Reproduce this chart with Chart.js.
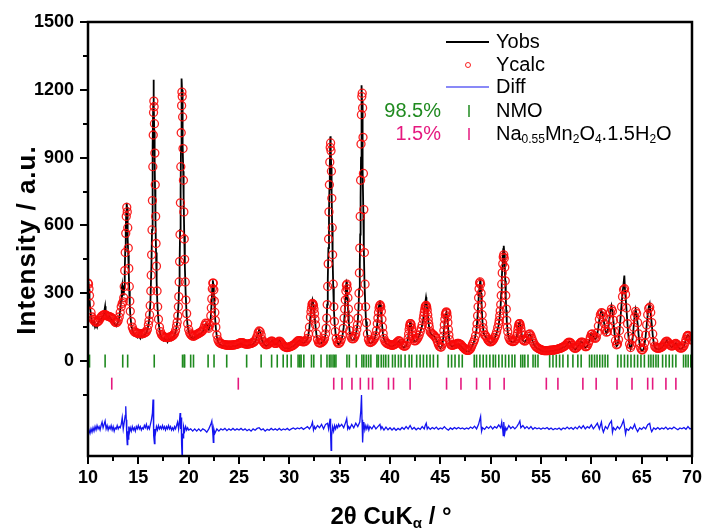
<!DOCTYPE html>
<html>
<head>
<meta charset="utf-8">
<script src="https://cdn.jsdelivr.net/npm/chart.js"></script>
<style>
  html, body { margin: 0; padding: 0; background: #fff; }
  canvas { display: block; }
</style>
</head>
<body>
<canvas id="xrd" width="705" height="531"></canvas>
<script>
// Rietveld fit: [2theta, intensity]
const calcPoints = [
  [10.0,345],[10.05,340],[10.1,320],[10.15,290],[10.2,255],[10.3,215],[10.4,195],[10.5,185],[10.6,178],[10.7,175],[10.8,172],[10.9,172],
  [11.0,175],[11.1,180],[11.2,188],[11.3,195],[11.4,200],[11.5,203],[11.6,205],[11.7,205],[11.8,203],[11.9,200],[12.0,198],[12.1,196],
  [12.2,195],[12.3,193],[12.4,190],[12.5,185],[12.6,178],[12.7,172],[12.8,170],[12.9,172],[13.0,180],[13.1,195],[13.2,215],[13.3,240],
  [13.4,255],[13.5,262],[13.55,280],[13.6,330],[13.65,400],[13.7,480],[13.75,565],[13.8,640],[13.85,680],[13.9,660],[13.95,590],[14.0,500],
  [14.05,410],[14.1,330],[14.15,265],[14.2,220],[14.3,175],[14.4,150],[14.5,138],[14.6,130],[14.7,127],[14.8,125],[14.9,123],[15.0,122],
  [15.1,121],[15.2,121],[15.3,121],[15.4,121],[15.5,122],[15.6,124],[15.7,127],[15.8,130],[15.9,140],[16.0,160],[16.06,178],[16.12,205],
  [16.18,245],[16.24,310],[16.28,380],[16.32,470],[16.36,580],[16.4,710],[16.44,860],[16.48,1000],[16.51,1100],[16.54,1150],[16.57,1125],
  [16.6,1050],[16.64,920],[16.68,780],[16.72,640],[16.76,520],[16.8,420],[16.86,310],[16.92,240],[17.0,185],[17.1,150],[17.2,130],[17.3,118],
  [17.4,112],[17.5,108],[17.6,106],[17.7,105],[17.8,104],[17.9,104],[18.0,105],[18.1,106],[18.2,107],[18.3,109],[18.4,112],[18.5,116],
  [18.6,122],[18.7,135],[18.8,155],[18.86,172],[18.92,200],[18.98,240],[19.02,285],[19.06,350],[19.1,440],[19.14,560],[19.18,700],[19.22,860],
  [19.26,1010],[19.3,1130],[19.33,1190],[19.36,1170],[19.4,1080],[19.44,940],[19.48,800],[19.52,660],[19.56,540],[19.6,450],[19.66,350],
  [19.72,270],[19.8,210],[19.9,165],[20.0,140],[20.1,125],[20.2,118],[20.3,113],[20.4,110],[20.5,110],[20.6,112],[20.7,115],[20.8,118],
  [20.9,120],[21.0,122],[21.1,125],[21.2,128],[21.3,131],[21.4,135],[21.5,145],[21.6,158],[21.7,168],[21.8,165],[21.9,150],[22.0,145],
  [22.1,160],[22.2,200],[22.25,235],[22.3,275],[22.35,320],[22.4,345],[22.45,345],[22.5,315],[22.55,265],[22.6,215],[22.65,180],[22.7,150],
  [22.8,115],[22.9,95],[23.0,85],[23.1,80],[23.2,78],[23.3,76],[23.4,74],[23.5,73],[23.6,72],[23.7,71],[23.8,70],[23.9,70],[24.0,70],
  [24.1,70],[24.2,70],[24.3,70],[24.4,71],[24.5,71],[24.6,72],[24.7,73],[24.8,74],[24.9,76],[25.0,78],[25.1,80],[25.2,82],[25.3,82],
  [25.4,80],[25.5,78],[25.6,76],[25.7,75],[25.8,74],[25.9,75],[26.0,76],[26.1,77],[26.2,78],[26.3,80],[26.4,82],[26.5,85],[26.6,90],
  [26.7,98],[26.8,110],[26.9,125],[27.0,133],[27.1,130],[27.2,115],[27.3,95],[27.4,86],[27.5,80],[27.6,75],[27.7,72],[27.8,73],[27.9,75],
  [28.0,80],[28.1,85],[28.2,88],[28.3,88],[28.4,85],[28.5,80],[28.6,78],[28.7,78],[28.8,82],[28.9,85],[29.0,88],[29.1,86],[29.2,80],
  [29.3,74],[29.4,68],[29.5,64],[29.6,62],[29.7,60],[29.8,60],[29.9,61],[30.0,62],[30.1,64],[30.2,66],[30.3,68],[30.4,70],[30.5,74],
  [30.6,78],[30.7,83],[30.8,88],[30.9,90],[31.0,90],[31.1,89],[31.2,88],[31.3,86],[31.4,85],[31.5,86],[31.6,88],[31.7,93],[31.8,100],
  [31.9,120],[32.0,150],[32.1,195],[32.15,218],[32.2,235],[32.25,250],[32.3,255],[32.35,252],[32.4,245],[32.45,230],[32.5,210],[32.55,185],
  [32.6,160],[32.7,120],[32.8,95],[32.9,82],[33.0,80],[33.1,80],[33.2,82],[33.3,86],[33.4,90],[33.5,100],[33.6,120],[33.66,145],[33.72,190],
  [33.76,250],[33.81,330],[33.86,430],[33.9,540],[33.94,660],[33.98,780],[34.02,880],[34.06,945],[34.1,965],[34.14,930],[34.18,840],
  [34.22,720],[34.26,590],[34.3,470],[34.36,340],[34.42,240],[34.48,175],[34.56,130],[34.66,100],[34.76,85],[34.86,78],[34.96,79],[35.06,85],
  [35.16,96],[35.26,115],[35.36,145],[35.44,190],[35.5,230],[35.56,270],[35.62,310],[35.67,335],[35.72,340],[35.77,320],[35.82,280],
  [35.87,230],[35.92,185],[36.0,135],[36.1,110],[36.2,100],[36.3,98],[36.4,100],[36.5,108],[36.6,120],[36.7,140],[36.76,160],[36.82,190],
  [36.88,240],[36.92,300],[36.96,390],[37.0,500],[37.04,640],[37.08,800],[37.12,960],[37.16,1090],[37.2,1170],[37.24,1185],[37.28,1120],
  [37.32,990],[37.36,830],[37.4,670],[37.46,480],[37.52,340],[37.58,240],[37.66,170],[37.76,120],[37.86,95],[37.96,85],[38.06,82],[38.16,84],
  [38.26,88],[38.36,93],[38.46,100],[38.56,112],[38.66,135],[38.74,165],[38.8,190],[38.86,215],[38.92,235],[38.98,245],[39.03,248],[39.08,240],
  [39.14,220],[39.2,185],[39.26,150],[39.32,122],[39.4,100],[39.5,88],[39.6,82],[39.7,78],[39.8,76],[39.9,74],[40.0,72],[40.1,71],[40.2,70],
  [40.3,70],[40.4,72],[40.5,75],[40.6,78],[40.7,83],[40.8,88],[40.9,90],[41.0,86],[41.1,78],[41.2,72],[41.3,68],[41.4,66],[41.5,66],[41.6,70],
  [41.7,82],[41.8,100],[41.85,120],[41.9,140],[41.95,155],[42.0,165],[42.05,166],[42.1,160],[42.15,145],[42.2,130],[42.25,112],[42.3,100],
  [42.4,90],[42.5,89],[42.6,92],[42.7,98],[42.8,105],[42.9,115],[43.0,130],[43.1,145],[43.2,160],[43.3,185],[43.35,200],[43.4,215],[43.45,228],
  [43.5,240],[43.55,245],[43.6,246],[43.65,238],[43.7,225],[43.75,205],[43.8,185],[43.85,165],[43.9,150],[44.0,130],[44.1,124],[44.2,120],
  [44.3,116],[44.4,112],[44.5,106],[44.6,100],[44.7,88],[44.8,75],[44.9,66],[45.0,62],[45.1,62],[45.2,75],[45.25,90],[45.3,110],[45.35,135],
  [45.4,160],[45.45,185],[45.5,205],[45.55,214],[45.6,218],[45.65,212],[45.7,195],[45.75,170],[45.8,140],[45.85,115],[45.9,95],[46.0,75],
  [46.1,70],[46.2,70],[46.3,71],[46.4,72],[46.5,74],[46.6,76],[46.7,78],[46.8,78],[46.9,76],[47.0,74],[47.1,70],[47.2,64],[47.3,60],[47.4,55],
  [47.5,51],[47.6,48],[47.7,47],[47.8,47],[47.9,50],[48.0,55],[48.1,64],[48.2,75],[48.3,84],[48.4,95],[48.5,112],[48.6,140],[48.65,165],
  [48.7,200],[48.75,240],[48.8,280],[48.85,320],[48.9,345],[48.95,350],[49.0,340],[49.05,300],[49.1,250],[49.15,205],[49.2,170],[49.25,148],
  [49.3,130],[49.4,115],[49.5,112],[49.6,105],[49.7,96],[49.8,90],[49.9,86],[50.0,85],[50.1,87],[50.2,90],[50.3,97],[50.4,105],[50.5,116],
  [50.6,130],[50.7,148],[50.8,165],[50.85,180],[50.9,200],[50.95,222],[51.0,250],[51.05,290],[51.1,340],[51.15,390],[51.2,430],[51.25,460],
  [51.3,470],[51.35,455],[51.4,415],[51.45,355],[51.5,290],[51.55,230],[51.6,180],[51.65,150],[51.7,130],[51.8,105],[51.9,95],[52.0,90],
  [52.1,88],[52.2,86],[52.3,87],[52.4,90],[52.5,98],[52.6,110],[52.65,122],[52.7,140],[52.75,152],[52.8,162],[52.85,166],[52.9,165],
  [52.95,156],[53.0,145],[53.05,130],[53.1,115],[53.2,95],[53.3,90],[53.4,88],[53.5,92],[53.6,100],[53.7,110],[53.8,118],[53.9,120],
  [54.0,112],[54.1,100],[54.2,88],[54.3,78],[54.4,70],[54.5,64],[54.6,60],[54.7,57],[54.8,55],[54.9,52],[55.0,50],[55.1,48],[55.2,47],
  [55.3,46],[55.4,46],[55.5,46],[55.6,46],[55.7,46],[55.8,47],[55.9,47],[56.0,48],[56.1,48],[56.2,48],[56.3,49],[56.4,50],[56.5,51],
  [56.6,52],[56.7,53],[56.8,55],[56.9,56],[57.0,58],[57.1,60],[57.2,62],[57.3,65],[57.4,68],[57.5,72],[57.6,78],[57.7,82],[57.8,84],
  [57.9,82],[58.0,78],[58.1,70],[58.2,62],[58.3,58],[58.4,56],[58.5,58],[58.6,62],[58.7,68],[58.8,75],[58.9,80],[59.0,84],[59.1,84],
  [59.2,80],[59.3,72],[59.4,64],[59.5,64],[59.6,68],[59.7,78],[59.8,90],[59.9,105],[60.0,118],[60.1,120],[60.2,112],[60.3,104],[60.4,100],
  [60.5,105],[60.6,125],[60.7,155],[60.8,185],[60.9,205],[61.0,214],[61.1,212],[61.2,195],[61.3,165],[61.4,140],[61.5,128],[61.6,130],
  [61.7,150],[61.8,185],[61.9,215],[62.0,230],[62.1,220],[62.2,180],[62.3,130],[62.4,90],[62.5,72],[62.6,75],[62.7,95],[62.8,135],
  [62.9,185],[63.0,240],[63.1,285],[63.2,315],[63.3,320],[63.4,295],[63.5,235],[63.6,165],[63.7,110],[63.8,75],[63.9,60],[64.0,70],
  [64.1,100],[64.2,150],[64.3,195],[64.4,220],[64.5,210],[64.6,170],[64.7,120],[64.8,80],[64.9,58],[65.0,50],[65.1,50],[65.2,58],
  [65.3,80],[65.4,115],[65.5,160],[65.6,205],[65.7,232],[65.8,238],[65.9,215],[66.0,170],[66.1,120],[66.2,85],[66.3,66],[66.4,60],
  [66.5,58],[66.6,56],[66.7,57],[66.8,58],[66.9,60],[67.0,62],[67.1,66],[67.2,72],[67.3,80],[67.4,86],[67.5,88],[67.6,84],[67.7,78],
  [67.8,72],[67.9,68],[68.0,66],[68.1,68],[68.2,72],[68.3,76],[68.4,78],[68.5,74],[68.6,68],[68.7,62],[68.8,58],[68.9,57],[69.0,58],
  [69.1,62],[69.2,68],[69.3,80],[69.4,95],[69.5,108],[69.55,112],[69.6,113],[69.7,110],[69.8,102],[69.9,96],[70.0,92]
];

const obsPoints = [
  [10.0,352],[10.05,345],[10.1,318],[10.15,280],[10.2,240],[10.3,200],[10.4,170],[10.5,160],[10.6,172],[10.7,150],[10.8,160],[10.9,150],
  [11.0,168],[11.1,175],[11.2,185],[11.3,180],[11.4,195],[11.5,190],[11.6,215],[11.7,242],[11.75,215],[11.8,200],[11.9,195],[12.0,188],
  [12.1,198],[12.2,190],[12.3,185],[12.4,182],[12.5,175],[12.6,165],[12.7,160],[12.8,155],[12.9,165],[13.0,175],[13.1,190],[13.2,225],
  [13.3,270],[13.35,320],[13.4,335],[13.45,300],[13.5,310],[13.55,290],[13.6,330],[13.65,400],[13.7,490],[13.75,580],[13.8,660],[13.84,700],
  [13.88,680],[13.92,620],[13.96,540],[14.0,470],[14.05,390],[14.1,310],[14.15,250],[14.2,205],[14.3,160],[14.4,140],[14.5,125],[14.6,118],
  [14.7,112],[14.8,110],[14.9,105],[15.0,115],[15.1,108],[15.2,100],[15.3,112],[15.4,105],[15.5,110],[15.6,115],[15.7,120],[15.8,125],
  [15.9,138],[16.0,160],[16.1,190],[16.2,260],[16.3,420],[16.36,580],[16.4,760],[16.44,950],[16.48,1140],[16.51,1244],[16.54,1150],
  [16.58,1020],[16.62,880],[16.66,760],[16.7,630],[16.76,480],[16.82,350],[16.9,240],[17.0,175],[17.1,140],[17.2,115],[17.3,105],[17.4,98],
  [17.5,92],[17.6,100],[17.7,90],[17.8,95],[17.9,85],[18.0,98],[18.1,92],[18.2,100],[18.3,94],[18.4,105],[18.5,108],[18.6,115],[18.7,130],
  [18.8,150],[18.9,185],[19.0,260],[19.05,330],[19.1,430],[19.15,580],[19.2,760],[19.24,950],[19.28,1150],[19.31,1250],[19.34,1200],
  [19.38,1080],[19.42,960],[19.46,840],[19.5,720],[19.56,560],[19.62,420],[19.7,300],[19.8,200],[19.9,155],[20.0,130],[20.1,118],[20.2,108],
  [20.3,100],[20.4,105],[20.5,98],[20.6,108],[20.7,104],[20.8,112],[20.9,108],[21.0,118],[21.2,122],[21.4,128],[21.5,140],[21.6,152],
  [21.7,165],[21.8,162],[21.9,148],[22.0,140],[22.1,155],[22.2,195],[22.3,275],[22.35,330],[22.4,357],[22.45,340],[22.5,305],[22.55,255],
  [22.6,205],[22.7,145],[22.8,108],[22.9,88],[23.0,78],[23.2,70],[23.4,66],[23.6,70],[23.8,62],[24.0,66],[24.2,60],[24.4,68],[24.6,64],
  [24.8,70],[25.0,74],[25.2,78],[25.4,72],[25.6,70],[25.8,66],[26.0,72],[26.2,70],[26.4,76],[26.6,85],[26.8,108],[26.9,122],[27.0,138],
  [27.1,128],[27.2,110],[27.3,90],[27.5,75],[27.7,66],[27.9,72],[28.1,82],[28.3,90],[28.5,76],[28.7,74],[28.9,84],[29.0,94],[29.2,76],
  [29.4,62],[29.6,56],[29.8,58],[30.0,55],[30.2,62],[30.4,66],[30.6,74],[30.8,85],[31.0,92],[31.2,84],[31.4,80],[31.6,85],[31.8,98],
  [31.9,118],[32.0,150],[32.1,200],[32.2,245],[32.3,270],[32.4,250],[32.5,205],[32.6,155],[32.7,115],[32.8,92],[32.9,78],[33.0,76],
  [33.2,80],[33.4,86],[33.5,96],[33.6,118],[33.7,170],[33.76,250],[33.82,360],[33.88,500],[33.94,650],[33.98,760],[34.02,860],[34.06,960],
  [34.09,995],[34.12,950],[34.16,860],[34.2,750],[34.25,600],[34.3,460],[34.36,330],[34.42,235],[34.5,165],[34.6,120],[34.7,94],[34.8,80],
  [34.9,74],[35.0,78],[35.1,85],[35.2,96],[35.3,118],[35.4,150],[35.5,210],[35.56,275],[35.62,330],[35.68,350],[35.72,345],[35.78,290],
  [35.84,225],[35.9,175],[36.0,128],[36.1,104],[36.2,95],[36.3,92],[36.4,96],[36.5,104],[36.6,118],[36.7,138],[36.8,175],[36.88,240],
  [36.94,320],[37.0,430],[37.04,560],[37.08,720],[37.12,900],[37.16,1080],[37.19,1220],[37.22,1150],[37.26,1000],[37.3,850],[37.35,660],
  [37.4,500],[37.46,360],[37.54,250],[37.62,175],[37.7,130],[37.8,100],[37.9,86],[38.0,80],[38.1,78],[38.2,82],[38.4,92],[38.6,118],
  [38.7,150],[38.8,195],[38.9,240],[38.96,262],[39.0,268],[39.05,250],[39.1,220],[39.2,165],[39.3,120],[39.4,96],[39.6,78],[39.8,72],
  [40.0,66],[40.2,64],[40.4,68],[40.6,74],[40.8,84],[40.9,88],[41.0,80],[41.2,66],[41.4,60],[41.6,66],[41.8,100],[41.9,140],[42.0,172],
  [42.05,175],[42.1,160],[42.2,125],[42.3,96],[42.4,86],[42.6,88],[42.8,102],[43.0,128],[43.1,142],[43.2,158],[43.3,185],[43.4,220],
  [43.5,258],[43.58,282],[43.62,270],[43.7,228],[43.8,180],[43.9,146],[44.0,126],[44.1,118],[44.2,116],[44.4,108],[44.6,95],[44.8,70],
  [45.0,56],[45.2,70],[45.3,105],[45.4,155],[45.5,200],[45.6,215],[45.7,190],[45.8,135],[45.9,90],[46.0,70],[46.2,64],[46.4,68],[46.6,72],
  [46.8,74],[47.0,68],[47.2,58],[47.4,50],[47.6,44],[47.8,42],[48.0,50],[48.2,70],[48.4,92],[48.6,140],[48.7,200],[48.8,275],[48.9,330],
  [48.96,355],[49.0,350],[49.05,300],[49.1,245],[49.2,165],[49.3,126],[49.4,112],[49.5,108],[49.6,100],[49.8,86],[50.0,80],[50.2,86],
  [50.4,100],[50.6,125],[50.8,160],[50.9,195],[51.0,250],[51.05,300],[51.1,355],[51.15,410],[51.2,460],[51.25,495],[51.3,510],[51.35,480],
  [51.4,420],[51.45,355],[51.5,285],[51.55,225],[51.6,176],[51.7,126],[51.8,102],[51.9,92],[52.0,86],[52.2,82],[52.4,88],[52.6,108],
  [52.7,138],[52.8,165],[52.9,172],[53.0,148],[53.1,112],[53.2,92],[53.4,84],[53.6,96],[53.8,114],[53.9,118],[54.0,108],[54.2,84],
  [54.4,66],[54.6,56],[54.8,52],[55.0,46],[55.2,44],[55.4,42],[55.6,44],[55.8,42],[56.0,46],[56.2,44],[56.4,48],[56.6,50],[56.8,52],
  [57.0,55],[57.2,60],[57.4,64],[57.6,75],[57.8,86],[58.0,76],[58.2,58],[58.4,52],[58.6,60],[58.8,72],[59.0,86],[59.1,82],[59.2,76],
  [59.4,60],[59.6,65],[59.8,88],[60.0,122],[60.1,118],[60.2,106],[60.4,96],[60.5,102],[60.6,122],[60.7,150],[60.8,185],[60.9,208],
  [61.0,222],[61.1,214],[61.2,190],[61.3,160],[61.4,135],[61.5,122],[61.6,128],[61.7,150],[61.8,190],[61.9,225],[62.0,245],[62.1,222],
  [62.2,175],[62.3,125],[62.4,84],[62.5,66],[62.6,70],[62.7,92],[62.8,135],[62.9,190],[63.0,250],[63.1,300],[63.2,340],[63.28,378],
  [63.35,310],[63.4,285],[63.5,225],[63.6,158],[63.7,104],[63.8,70],[63.9,54],[64.0,66],[64.1,98],[64.2,150],[64.3,200],[64.4,228],
  [64.5,205],[64.6,165],[64.7,114],[64.8,74],[64.9,52],[65.0,46],[65.1,46],[65.2,54],[65.3,78],[65.4,112],[65.5,158],[65.6,205],
  [65.7,238],[65.8,253],[65.9,210],[66.0,165],[66.1,115],[66.2,80],[66.3,62],[66.4,55],[66.6,52],[66.8,54],[67.0,60],[67.2,70],
  [67.4,86],[67.5,92],[67.6,82],[67.8,68],[68.0,62],[68.2,70],[68.4,80],[68.6,64],[68.8,54],[69.0,55],[69.2,66],[69.4,96],[69.55,115],
  [69.7,108],[69.85,96],[70.0,90]
];

const diffPoints = [
  [10.0,-330],[10.1,-305],[10.2,-320],[10.3,-300],[10.4,-315],[10.5,-295],[10.6,-310],[10.7,-290],[10.8,-305],[10.9,-285],[11.0,-300],
  [11.1,-290],[11.2,-305],[11.3,-285],[11.4,-270],[11.5,-295],[11.6,-280],[11.7,-265],[11.8,-300],[11.9,-285],[12.0,-305],[12.1,-290],
  [12.2,-300],[12.3,-285],[12.4,-305],[12.5,-290],[12.6,-310],[12.7,-295],[12.8,-300],[12.9,-285],[13.0,-300],[13.1,-290],[13.2,-295],
  [13.3,-280],[13.4,-250],[13.5,-300],[13.6,-270],[13.7,-240],[13.75,-200],[13.8,-260],[13.85,-330],[13.9,-370],[13.95,-310],[14.0,-345],
  [14.05,-290],[14.1,-320],[14.2,-295],[14.3,-310],[14.4,-290],[14.5,-305],[14.6,-295],[14.7,-310],[14.8,-290],[14.9,-300],[15.0,-285],
  [15.1,-300],[15.2,-290],[15.3,-305],[15.4,-295],[15.5,-300],[15.6,-285],[15.7,-295],[15.8,-280],[15.9,-300],[16.0,-290],[16.1,-300],
  [16.2,-280],[16.3,-260],[16.4,-230],[16.46,-170],[16.5,-250],[16.55,-330],[16.6,-365],[16.65,-300],[16.7,-320],[16.8,-290],[16.9,-305],
  [17.0,-285],[17.1,-300],[17.2,-290],[17.3,-300],[17.4,-285],[17.5,-300],[17.6,-290],[17.7,-305],[17.8,-290],[17.9,-300],[18.0,-285],
  [18.1,-300],[18.2,-290],[18.3,-305],[18.4,-295],[18.5,-305],[18.6,-290],[18.7,-300],[18.8,-285],[18.9,-270],[19.0,-300],[19.1,-260],
  [19.15,-230],[19.2,-300],[19.25,-250],[19.3,-370],[19.34,-415],[19.38,-320],[19.45,-340],[19.5,-290],[19.6,-310],[19.7,-290],[19.8,-305],
  [19.9,-295],[20.0,-305],[20.2,-300],[20.4,-310],[20.6,-300],[20.8,-310],[21.0,-300],[21.2,-310],[21.4,-300],[21.6,-305],[21.8,-315],
  [22.0,-300],[22.2,-280],[22.3,-265],[22.4,-320],[22.45,-360],[22.5,-300],[22.6,-320],[22.8,-300],[23.0,-310],[23.2,-300],[23.4,-305],
  [23.6,-298],[23.8,-308],[24.0,-300],[24.2,-306],[24.4,-298],[24.6,-306],[24.8,-300],[25.0,-305],[25.2,-298],[25.4,-306],[25.6,-300],
  [25.8,-308],[26.0,-302],[26.2,-310],[26.4,-300],[26.6,-306],[26.8,-298],[27.0,-295],[27.2,-305],[27.4,-300],[27.6,-310],[27.8,-302],
  [28.0,-306],[28.2,-298],[28.4,-305],[28.6,-300],[28.8,-306],[29.0,-298],[29.2,-306],[29.4,-300],[29.6,-304],[29.8,-298],[30.0,-306],
  [30.2,-300],[30.4,-296],[30.6,-302],[30.8,-296],[31.0,-300],[31.2,-294],[31.4,-302],[31.6,-296],[31.8,-290],[32.0,-300],[32.2,-285],
  [32.3,-270],[32.4,-305],[32.5,-290],[32.6,-300],[32.8,-285],[33.0,-295],[33.2,-280],[33.4,-300],[33.6,-280],[33.8,-275],[33.9,-300],
  [34.0,-270],[34.05,-255],[34.1,-320],[34.15,-395],[34.2,-330],[34.3,-290],[34.4,-310],[34.5,-285],[34.6,-300],[34.7,-285],[34.8,-295],
  [34.9,-280],[35.0,-290],[35.2,-280],[35.4,-295],[35.6,-270],[35.7,-255],[35.8,-300],[35.9,-290],[36.0,-300],[36.2,-280],[36.4,-295],
  [36.6,-275],[36.8,-290],[37.0,-270],[37.1,-220],[37.17,-150],[37.22,-260],[37.28,-360],[37.34,-300],[37.4,-270],[37.5,-305],[37.6,-285],
  [37.7,-300],[37.8,-285],[37.9,-305],[38.0,-290],[38.2,-300],[38.4,-285],[38.6,-300],[38.8,-290],[39.0,-280],[39.1,-300],[39.2,-290],
  [39.4,-305],[39.6,-292],[39.8,-304],[40.0,-295],[40.2,-305],[40.4,-296],[40.6,-306],[40.8,-298],[41.0,-304],[41.2,-294],[41.4,-302],
  [41.6,-290],[41.8,-300],[42.0,-285],[42.2,-302],[42.4,-294],[42.6,-304],[42.8,-296],[43.0,-302],[43.2,-290],[43.4,-300],[43.5,-285],
  [43.6,-275],[43.7,-300],[43.8,-292],[44.0,-302],[44.2,-294],[44.4,-300],[44.6,-292],[44.8,-302],[45.0,-296],[45.2,-300],[45.4,-290],
  [45.6,-300],[45.8,-306],[46.0,-296],[46.2,-302],[46.4,-294],[46.6,-300],[46.8,-294],[47.0,-300],[47.2,-296],[47.4,-302],[47.6,-296],
  [47.8,-300],[48.0,-292],[48.2,-298],[48.4,-288],[48.6,-300],[48.8,-280],[48.9,-262],[49.0,-245],[49.05,-290],[49.1,-310],[49.2,-295],
  [49.4,-302],[49.6,-290],[49.8,-298],[50.0,-288],[50.2,-300],[50.4,-290],[50.6,-296],[50.8,-282],[51.0,-295],[51.1,-270],[51.2,-305],
  [51.25,-330],[51.3,-270],[51.4,-320],[51.5,-295],[51.6,-305],[51.8,-285],[52.0,-298],[52.2,-290],[52.4,-300],[52.6,-290],[52.8,-275],
  [52.9,-265],[53.0,-295],[53.2,-285],[53.4,-298],[53.6,-290],[53.8,-300],[54.0,-290],[54.2,-302],[54.4,-294],[54.6,-300],[54.8,-296],
  [55.0,-302],[55.2,-296],[55.4,-300],[55.6,-294],[55.8,-302],[56.0,-296],[56.2,-304],[56.4,-298],[56.6,-302],[56.8,-296],[57.0,-304],
  [57.2,-296],[57.4,-300],[57.6,-292],[57.8,-300],[58.0,-294],[58.2,-302],[58.4,-292],[58.6,-300],[58.8,-288],[59.0,-298],[59.2,-286],
  [59.4,-300],[59.6,-290],[59.8,-296],[60.0,-282],[60.2,-300],[60.4,-288],[60.6,-275],[60.8,-300],[61.0,-270],[61.1,-300],[61.2,-315],
  [61.4,-290],[61.6,-300],[61.8,-278],[62.0,-265],[62.1,-315],[62.2,-295],[62.4,-305],[62.6,-290],[62.8,-300],[63.0,-285],[63.2,-262],
  [63.3,-290],[63.4,-322],[63.5,-300],[63.7,-306],[63.9,-292],[64.1,-300],[64.3,-280],[64.4,-295],[64.6,-312],[64.8,-296],[65.0,-302],
  [65.2,-292],[65.4,-300],[65.6,-282],[65.8,-276],[65.9,-300],[66.0,-312],[66.2,-296],[66.4,-302],[66.6,-294],[66.8,-302],[67.0,-296],
  [67.2,-300],[67.4,-292],[67.6,-302],[67.8,-296],[68.0,-300],[68.2,-292],[68.4,-298],[68.6,-304],[68.8,-296],[69.0,-300],[69.2,-294],
  [69.4,-302],[69.6,-290],[69.8,-300],[70.0,-296]
];

// Bragg reflection positions (2theta) of each phase
const nmoReflections = [
  10.15, 11.7, 13.45, 13.94, 16.58, 19.39, 19.55, 19.6, 20.2, 20.48, 21.93, 22.52, 23.78, 25.76, 27.2, 28.24, 28.8, 29.39,
  29.79, 30.18, 30.87, 31.04, 31.17, 31.44, 32.2, 32.43, 33.15, 33.74, 33.98, 34.14, 34.34, 34.48, 34.63, 35.72, 35.96, 36.65,
  37.21, 37.4, 37.64, 37.87, 38.1, 38.7, 38.85, 39.13, 39.36, 39.58, 39.85, 40.25, 40.51, 40.84, 41.1, 41.5, 41.9, 42.16,
  42.65, 42.99, 43.32, 43.65, 43.98, 44.31, 44.74, 45.79, 46.12, 46.46, 46.85, 47.18, 48.37, 48.6, 48.93, 49.26, 49.58, 49.92,
  50.25, 50.48, 50.81, 51.14, 51.47, 51.8, 52.13, 52.4, 52.99, 53.19, 53.39, 53.71, 54.21, 54.44, 54.7, 55.86, 56.19, 56.52,
  56.85, 57.18, 57.67, 58.17, 58.66, 58.99, 59.82, 60.05, 60.32, 60.57, 60.84, 61.11, 61.37, 61.63, 62.62, 62.95, 63.29, 63.61,
  63.94, 64.28, 64.6, 64.93, 65.27, 65.69, 65.92, 66.16, 66.42, 66.65, 67.08, 67.41, 67.74, 68.07, 68.4, 69.16, 69.39, 69.62, 69.88
];
const naReflections = [
  12.36, 24.93, 34.41, 35.23, 36.22, 37.05, 37.87, 38.27, 39.85, 40.35, 42.0, 45.62, 47.05, 48.6, 49.92, 51.34,
  55.53, 56.68, 59.16, 60.48, 62.55, 64.04, 65.6, 66.09, 67.41, 68.4
];

const seriesLabels = ['Yobs', 'Ycalc', 'Diff', 'NMO'];
const phaseFractions = ['98.5%', '1.5%'];
const xTickValues = [10, 12.5, 15, 17.5, 20, 22.5, 25, 27.5, 30, 32.5, 35, 37.5, 40, 42.5, 45, 47.5, 50, 52.5, 55, 57.5, 60, 62.5, 65, 67.5, 70];
const yTickValues = [-150, 0, 150, 300, 450, 600, 750, 900, 1050, 1200, 1350, 1500];

const GREEN = '#1f8a1f';
const PINK = '#e5197f';
const RED = 'rgba(250, 10, 10, 0.9)';
const BLUE = '#1414f0';
const FONT = "'Liberation Sans', Arial, Helvetica, sans-serif";

const toXY = (pts) => pts.map(([x, y]) => ({ x, y }));
const phaseTicks = (positions, level) => positions.map((x) => ({ x, y: level }));

// draw a string made of [text, isSubscript] runs
function drawRuns(ctx, x, y, runs, size, weight) {
  runs.forEach(([text, sub]) => {
    const s = sub ? Math.round(size * 0.62) : size;
    ctx.font = `${weight} ${s}px ${FONT}`;
    ctx.fillText(text, x, sub ? y + size * 0.3 : y);
    x += ctx.measureText(text).width;
  });
}

function runsWidth(ctx, runs, size, weight) {
  let w = 0;
  runs.forEach(([text, sub]) => {
    const s = sub ? Math.round(size * 0.62) : size;
    ctx.font = `${weight} ${s}px ${FONT}`;
    w += ctx.measureText(text).width;
  });
  return w;
}

// frame, outward major/minor ticks
const framePlugin = {
  id: 'frame',
  afterDraw(chart) {
    const { ctx, chartArea: a, scales: { x, y } } = chart;
    ctx.save();
    ctx.strokeStyle = '#000';
    ctx.lineWidth = 2;
    ctx.beginPath();
    xTickValues.forEach((v) => {
      const px = Math.round(x.getPixelForValue(v));
      const len = v % 5 === 0 ? 8 : 5;
      ctx.moveTo(px, a.bottom);
      ctx.lineTo(px, a.bottom + len);
    });
    yTickValues.forEach((v) => {
      const py = Math.round(y.getPixelForValue(v));
      const len = v % 300 === 0 ? 8 : 5;
      ctx.moveTo(a.left - len, py);
      ctx.lineTo(a.left, py);
    });
    ctx.stroke();
    ctx.lineWidth = 2.5;
    ctx.strokeRect(a.left, a.top, a.right - a.left, a.bottom - a.top);
    ctx.restore();
  }
};

// axis titles and the legend block
const labelsPlugin = {
  id: 'labels',
  afterDraw(chart) {
    const { ctx } = chart;
    ctx.save();
    ctx.fillStyle = '#000';
    ctx.textBaseline = 'middle';

    // y title
    ctx.save();
    ctx.translate(28, 240);
    ctx.rotate(-Math.PI / 2);
    ctx.textAlign = 'center';
    ctx.font = `bold 26px ${FONT}`;
    ctx.letterSpacing = '1px';
    ctx.fillText('Intensity / a.u.', 0, 0);
    ctx.restore();

    // x title with subscript alpha
    const xRuns = [['2θ CuK', false], ['α', true], [' / °', false]];
    const xw = runsWidth(ctx, xRuns, 24, 'bold');
    ctx.textAlign = 'left';
    drawRuns(ctx, 391 - xw / 2, 517, xRuns, 24, 'bold');

    // legend
    const tx = 496;
    ctx.font = `20px ${FONT}`;
    ctx.lineWidth = 1.8;
    ctx.strokeStyle = '#000';
    ctx.beginPath(); ctx.moveTo(446, 42); ctx.lineTo(489, 42); ctx.stroke();
    ctx.fillText(seriesLabels[0], tx, 42);

    ctx.strokeStyle = RED; ctx.lineWidth = 1;
    ctx.beginPath(); ctx.arc(468, 65, 2.5, 0, Math.PI * 2); ctx.stroke();
    ctx.fillText(seriesLabels[1], tx, 65);

    ctx.strokeStyle = BLUE; ctx.lineWidth = 1.2;
    ctx.beginPath(); ctx.moveTo(446, 87); ctx.lineTo(489, 87); ctx.stroke();
    ctx.fillText(seriesLabels[2], tx, 87);

    ctx.strokeStyle = GREEN; ctx.lineWidth = 1.5;
    ctx.beginPath(); ctx.moveTo(469, 105); ctx.lineTo(469, 117); ctx.stroke();
    ctx.fillText(seriesLabels[3], tx, 111);

    ctx.strokeStyle = PINK;
    ctx.beginPath(); ctx.moveTo(469, 128); ctx.lineTo(469, 140); ctx.stroke();
    drawRuns(ctx, tx, 134, [['Na', false], ['0.55', true], ['Mn', false], ['2', true], ['O', false], ['4', true], ['.1.5H', false], ['2', true], ['O', false]], 20, 'normal');

    ctx.textAlign = 'right';
    ctx.font = `20px ${FONT}`;
    ctx.fillStyle = GREEN;
    ctx.fillText(phaseFractions[0], 441, 111);
    ctx.fillStyle = PINK;
    ctx.fillText(phaseFractions[1], 441, 134);
    ctx.restore();
  }
};

Chart.defaults.font.family = FONT;
Chart.defaults.color = '#000';

new Chart(document.getElementById('xrd'), {
  type: 'scatter',
  data: {
    datasets: [
      {
        label: 'Ycalc',
        data: toXY(calcPoints),
        showLine: false,
        pointStyle: 'circle',
        pointRadius: 4,
        pointBorderWidth: 1.3,
        pointBorderColor: RED,
        pointBackgroundColor: 'rgba(0,0,0,0)',
        order: 0
      },
      {
        label: 'Yobs',
        data: toXY(obsPoints),
        showLine: true,
        borderColor: '#000',
        borderWidth: 1.8,
        pointRadius: 0,
        tension: 0,
        order: 1
      },
      {
        label: 'Diff',
        data: toXY(diffPoints),
        showLine: true,
        borderColor: BLUE,
        borderWidth: 1.3,
        pointRadius: 0,
        tension: 0,
        order: 2
      },
      {
        label: 'NMO',
        data: phaseTicks(nmoReflections, 0),
        showLine: false,
        pointStyle: 'line',
        rotation: 90,
        pointRadius: 6.5,
        pointBorderWidth: 1.6,
        pointBorderColor: GREEN,
        order: 3
      },
      {
        label: 'Na0.55Mn2O4.1.5H2O',
        data: phaseTicks(naReflections, -100),
        showLine: false,
        pointStyle: 'line',
        rotation: 90,
        pointRadius: 6,
        pointBorderWidth: 1.6,
        pointBorderColor: PINK,
        order: 3
      }
    ]
  },
  options: {
    responsive: false,
    animation: false,
    events: [],
    devicePixelRatio: 1,
    layout: { padding: { top: 22, right: 10, left: 0, bottom: 0 } },
    plugins: {
      legend: { display: false },
      tooltip: { enabled: false }
    },
    scales: {
      x: {
        type: 'linear',
        min: 10,
        max: 70,
        afterBuildTicks: (scale) => { scale.ticks = xTickValues.map((value) => ({ value })); },
        afterFit: (scale) => { scale.height = 75; },
        grid: { display: true, drawOnChartArea: false, drawTicks: true, tickLength: 8, color: 'rgba(0,0,0,0)' },
        border: { display: false },
        ticks: {
          autoSkip: false,
          maxRotation: 0,
          padding: 3,
          font: { size: 18, weight: 'bold' },
          callback: (v) => (v % 5 === 0 ? String(v) : '')
        }
      },
      y: {
        type: 'linear',
        min: -420,
        max: 1500,
        afterBuildTicks: (scale) => { scale.ticks = yTickValues.map((value) => ({ value })); },
        afterFit: (scale) => { scale.width = 88; },
        grid: { display: true, drawOnChartArea: false, drawTicks: true, tickLength: 8, color: 'rgba(0,0,0,0)' },
        border: { display: false },
        ticks: {
          autoSkip: false,
          padding: 6,
          font: { size: 18, weight: 'bold' },
          callback: (v) => (v >= 0 && v % 300 === 0 ? String(v) : '')
        }
      }
    }
  },
  plugins: [framePlugin, labelsPlugin]
});
</script>
</body>
</html>
